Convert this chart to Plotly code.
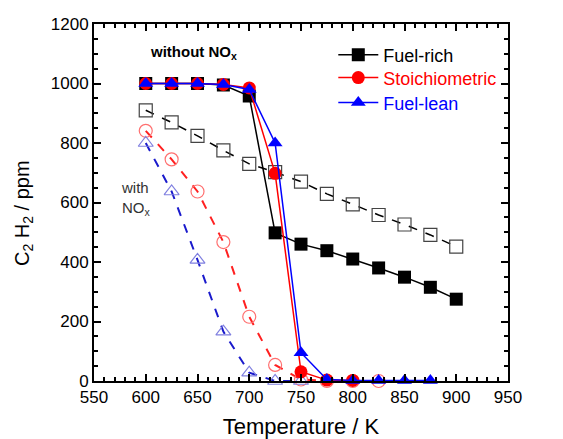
import plotly.graph_objects as go

# Temperatures (K)
temp_rich = [600, 625, 650, 675, 700, 725, 750, 775, 800, 825, 850, 875, 900]
temp_stoich = [600, 625, 650, 675, 700, 725, 750, 775, 800]
temp_lean = [600, 625, 650, 675, 700, 725, 750, 775, 800, 825, 850, 875]

# Without NOx (solid, filled markers)
rich_no_nox = [1000, 1000, 1000, 995, 958, 498, 460, 438, 410, 380, 349, 315, 275]
stoich_no_nox = [1000, 1000, 1000, 997, 985, 698, 31, 3, 2]
lean_no_nox = [1000, 1000, 1000, 997, 980, 800, 95, 5, 2, 2, 2, 2]

# With NOx (dashed, open markers)
temp_rich_nox = [600, 625, 650, 675, 700, 725, 750, 775, 800, 825, 850, 875, 900]
rich_nox = [910, 869, 824, 775, 730, 702, 670, 629, 594, 558, 526, 491, 452]
temp_stoich_nox = [600, 625, 650, 675, 700, 725, 750, 775, 800, 825]
stoich_nox = [841, 745, 637, 467, 216, 54, 5, 0, 0, 0]
temp_lean_nox = [600, 625, 650, 675, 700, 725, 750]
lean_nox = [800, 637, 407, 166, 28, 0, 0]

legend_names = ["Fuel-rich", "Stoichiometric", "Fuel-lean"]

FONT = "Liberation Sans, Arial, sans-serif"

fig = go.Figure()

# with NOx traces (drawn first, behind)
fig.add_trace(go.Scatter(
    x=temp_rich_nox, y=rich_nox, mode="lines+markers", showlegend=False,
    line=dict(color="black", width=1.5, dash="dash"),
    marker=dict(symbol="square-open", size=13, color="#444444", line=dict(width=1.2)),
    cliponaxis=False))
fig.add_trace(go.Scatter(
    x=temp_stoich_nox, y=stoich_nox, mode="lines+markers", showlegend=False,
    line=dict(color="#ff2020", width=2, dash="dash"),
    marker=dict(symbol="circle-open", size=13, color="#ff7070", line=dict(width=1.2)),
    cliponaxis=False))
fig.add_trace(go.Scatter(
    x=temp_lean_nox, y=lean_nox, mode="lines+markers", showlegend=False,
    line=dict(color="#1a1acc", width=2, dash="dash"),
    marker=dict(symbol="triangle-up-open", size=13, color="#8080e0", line=dict(width=1.2)),
    cliponaxis=False))

# without NOx traces (each in its own legend box for precise spacing)
fig.add_trace(go.Scatter(
    x=temp_rich, y=rich_no_nox, mode="lines+markers", name=legend_names[0],
    legend="legend",
    line=dict(color="black", width=1.5),
    marker=dict(symbol="square", size=13, color="black"),
    cliponaxis=False))
fig.add_trace(go.Scatter(
    x=temp_stoich, y=stoich_no_nox, mode="lines+markers", name=legend_names[1],
    legend="legend2",
    line=dict(color="#ff0000", width=1.5),
    marker=dict(symbol="circle", size=13, color="#ff0000"),
    cliponaxis=False))
fig.add_trace(go.Scatter(
    x=temp_lean, y=lean_no_nox, mode="lines+markers", name=legend_names[2],
    legend="legend3",
    line=dict(color="#0000ff", width=1.5),
    marker=dict(symbol="triangle-up", size=13, color="#0000ff"),
    cliponaxis=False))

fig.add_annotation(x=646, y=1105, xref="x", yref="y", showarrow=False,
                   text="<b>without NO<sub>x</sub></b>",
                   font=dict(family=FONT, size=15, color="black"))
fig.add_annotation(x=574, y=612, xref="x", yref="y", showarrow=False,
                   xanchor="left", align="left",
                   text="with<br>NO<sub>x</sub>",
                   font=dict(family=FONT, size=15, color="#333333"))
# y-axis title
fig.add_annotation(x=-0.172, y=0.47, xref="paper", yref="paper", showarrow=False,
                   textangle=-90, xanchor="center", yanchor="middle",
                   text="C<sub>2</sub> H<sub>2</sub> / ppm",
                   font=dict(family=FONT, size=20, color="black"))

axis_common = dict(
    showline=True, linecolor="black", linewidth=2, mirror="allticks",
    ticks="inside", ticklen=7, tickwidth=2, tickcolor="black",
    showgrid=False, zeroline=False, automargin=False,
    tickfont=dict(family=FONT, size=17, color="black"),
)

fig.update_xaxes(
    range=[550, 950], dtick=50, tick0=550,
    title=dict(text="Temperature / K", font=dict(family=FONT, size=22, color="black"), standoff=16),
    minor=dict(dtick=10, ticks="inside", ticklen=4, tickwidth=1.5, tickcolor="black"),
    **axis_common)
fig.update_yaxes(
    range=[0, 1200], dtick=200,
    minor=dict(dtick=50, ticks="inside", ticklen=4, tickwidth=1.5, tickcolor="black"),
    **axis_common)

legend_colors = ["#000000", "#ff0000", "#0000ff"]
legend_y = [0.913, 0.849, 0.779]


def leg(i):
    return dict(x=0.578, y=legend_y[i], xanchor="left", yanchor="middle",
                bgcolor="rgba(0,0,0,0)",
                font=dict(family=FONT, size=18, color=legend_colors[i]),
                itemwidth=40)


fig.update_layout(
    width=555, height=431,
    margin=dict(l=86, r=55, t=16, b=58),
    plot_bgcolor="white", paper_bgcolor="white",
    legend=leg(0), legend2=leg(1), legend3=leg(2),
    showlegend=True,
)

fig.write_html("out.html")
